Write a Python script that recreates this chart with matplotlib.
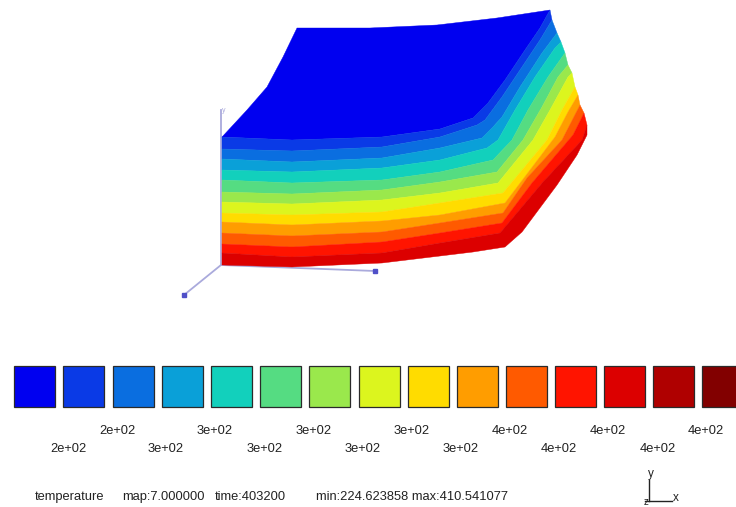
import numpy as np
import matplotlib.pyplot as plt

plt.rcParams['font.family'] = ['Liberation Sans', 'DejaVu Sans']

# colour map of the 15 levels
level_colors = ['#0000f0', '#0a3ae6', '#0a6ee0', '#0aa0d8', '#12d0bc', '#55dc82', '#9ae84c', '#dcf51e',
                '#ffdc00', '#ff9d00', '#ff5a00', '#ff1400', '#dc0000', '#af0000', '#820000']
level_labels = ['2e+02', '2e+02', '3e+02', '3e+02', '3e+02', '3e+02', '3e+02', '3e+02',
                '3e+02', '4e+02', '4e+02', '4e+02', '4e+02', '4e+02']

# band boundaries on the surface, read in image pixels
left_xs = [222, 292, 382, 440]
left_ys = [[137, 140, 137, 129],
           [149, 151, 147, 137],
           [159, 162, 158, 148],
           [170, 172, 168, 160],
           [180, 183, 180, 172],
           [192, 194, 190, 182],
           [202, 204, 200, 193],
           [213, 215, 212, 203],
           [222, 225, 221, 215],
           [233, 236, 232, 223],
           [244, 247, 242, 233],
           [253, 257, 253, 243],
           [265, 267, 263, 256]]
right_xs = [[473, 488, 505, 525, 540, 550],
            [477, 485, 502, 522, 540, 552],
            [482, 492, 502, 520, 542, 557],
            [487, 498, 515, 535, 555, 561],
            [493, 512, 528, 548, 565],
            [497, 523, 542, 558, 568],
            [498, 533, 550, 568, 572],
            [503, 547, 562, 575],
            [505, 555, 568, 578],
            [503, 527, 562, 580],
            [502, 532, 573, 584],
            [500, 543, 582, 587],
            [473, 505, 522, 557, 577, 587, 587]]
right_ys = [[118, 103, 80, 50, 28, 10],
            [125, 120, 97, 67, 40, 20],
            [138, 128, 117, 87, 53, 33],
            [148, 140, 110, 77, 48, 42],
            [160, 140, 110, 77, 53],
            [172, 140, 107, 77, 65],
            [183, 140, 110, 77, 73],
            [193, 140, 110, 87],
            [203, 137, 112, 95],
            [213, 178, 140, 105],
            [223, 183, 135, 113],
            [233, 182, 140, 125],
            [252, 247, 232, 185, 155, 135, 128]]

# upper outline of the surface
top_x = [222, 247, 267, 283, 297, 313, 370, 437, 497, 550]
top_y = [137, 110, 87, 57, 28, 28, 28, 25, 18, 10]

# legend swatches
swatch_x = [34, 83, 133, 182, 231, 280, 329, 379, 428, 477, 526, 575, 624, 673, 722]
label_x = [68, 117, 166, 215, 265, 314, 363, 412, 461, 510, 559, 608, 658, 706]

axis_color = '#aaaadc'


def boundary(i):
    return left_xs + right_xs[i], left_ys[i] + right_ys[i]


fig = plt.figure(figsize=(7.36, 5.07), dpi=100)
ax = fig.add_axes([0, 0, 1, 1])
ax.set_xlim(0, 736)
ax.set_ylim(507, 0)
ax.axis('off')

# axes of the 3d view
ax.plot([221, 221], [265, 110], color=axis_color, lw=1.3, zorder=1)
ax.plot([221, 375], [265, 271], color=axis_color, lw=1.3, zorder=1)
ax.plot([221, 184], [265, 295], color=axis_color, lw=1.3, zorder=1)
ax.plot([375, 184], [271, 295], ls='none', marker='s', ms=2.5, color='#5050c8', zorder=1)
ax.text(224, 110, 'y', fontsize=5, color=axis_color, ha='center', va='center')

# surface
xs, ys = boundary(0)
ax.fill(top_x + xs[::-1], top_y + ys[::-1], color=level_colors[0], lw=0.3, zorder=2)
for i in range(len(left_ys) - 1):
    xa, ya = boundary(i)
    xb, yb = boundary(i + 1)
    ax.fill(xa + xb[::-1], ya + yb[::-1], color=level_colors[i + 1], lw=0.3, zorder=2)

# legend
ax.bar(swatch_x, [41] * len(swatch_x), width=41, bottom=366, color=level_colors,
       edgecolor='#2a2a2a', linewidth=0.9)
for i, lab in enumerate(level_labels):
    y = 449 if i % 2 == 0 else 431
    ax.text(label_x[i], y, lab, fontsize=9.3, color='#222222', ha='center', va='center')

# status line
ax.text(35, 497, 'temperature', fontsize=9.3, color='#222222', va='center')
ax.text(122, 497, 'map:7.000000', fontsize=9.3, color='#222222', va='center')
ax.text(215, 497, 'time:403200', fontsize=9.3, color='#222222', va='center')
ax.text(316, 497, 'min:224.623858 max:410.541077', fontsize=9.3, color='#222222', va='center')

# small triad
ax.plot([649, 649], [480, 501], color='#222222', lw=1)
ax.plot([645, 672], [501, 501], color='#222222', lw=1)
ax.text(651, 474, 'y', fontsize=8.5, color='#222222', ha='center', va='center')
ax.text(676, 498, 'x', fontsize=8.5, color='#222222', ha='center', va='center')
ax.text(646, 502, 'z', fontsize=7, color='#222222', ha='center', va='center')

fig.savefig('out.png', dpi=100)
